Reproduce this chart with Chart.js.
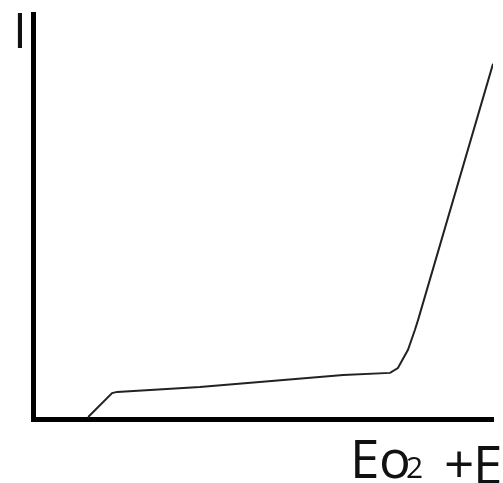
<!DOCTYPE html>
<html>
<head>
<meta charset="utf-8">
<script src="https://cdn.jsdelivr.net/npm/chart.js@4.4.1/dist/chart.umd.min.js"></script>
<style>
  html, body { margin: 0; padding: 0; background: #fff; }
  #wrap { position: relative; width: 503px; height: 483px; }
</style>
</head>
<body>
<div id="wrap"><canvas id="iv-chart"></canvas></div>
<script>
// potential (E, arbitrary units) vs current (I, arbitrary units)
const potentialE = [11.9, 17.1, 18.2, 36.2, 67.4, 77.6, 79.3, 81.5, 83.0, 83.7, 100];
const currentI   = [0.5, 6.4, 6.7, 7.9, 10.9, 11.4, 12.6, 17.1, 22.0, 24.5, 87.8];

const yLabel = 'I';
const xMark  = ['E', 'o', '2'];   // Eo₂
const xEnd   = ['+', 'E'];        // +E

// axis captions are drawn by hand beside the axes, like the sketch
const captions = {
  id: 'captions',
  afterDraw(chart) {
    const ctx = chart.ctx;
    ctx.save();
    ctx.fillStyle = '#111';
    ctx.textAlign = 'left';
    ctx.textBaseline = 'alphabetic';
    const font = px => `${px}px "Open Sans"`;

    ctx.font = font(50);
    ctx.fillText(yLabel, 13, 48);

    ctx.font = font(53);
    ctx.fillText(xMark[0], 350, 478);
    ctx.fillText(xMark[1], 379, 478);
    ctx.font = font(30);
    ctx.fillText(xMark[2], 406, 478);

    ctx.font = font(53);
    ctx.fillText(xEnd[0], 444, 483);
    ctx.fillText(xEnd[1], 473, 484);
    ctx.restore();
  }
};

// axes take no room: the plot edges are set by the layout padding alone
const noSize = s => { if (s.isHorizontal()) s.height = 0; else s.width = 0; };

new Chart(document.getElementById('iv-chart'), {
  type: 'scatter',
  data: {
    datasets: [{
      data: potentialE.map((e, i) => ({ x: e, y: currentI[i] })),
      showLine: true,
      borderColor: '#222',
      borderWidth: 2,
      pointRadius: 0,
      pointHoverRadius: 0,
      pointBorderWidth: 0,
      tension: 0,
    }]
  },
  options: {
    responsive: true,
    maintainAspectRatio: false,
    animation: false,
    events: [],
    layout: { autoPadding: false, padding: { left: 33.5, right: 10, top: 14.5, bottom: 64 } },
    plugins: { legend: { display: false }, tooltip: { enabled: false } },
    scales: {
      x: {
        type: 'linear', min: 0, max: 100,
        ticks: { display: false },
        grid: { display: false },
        border: { display: true, color: '#000', width: 5 },
        afterFit: noSize,
      },
      y: {
        type: 'linear', min: 0, max: 100,
        ticks: { display: false },
        grid: { display: false },
        border: { display: true, color: '#000', width: 5 },
        afterFit: noSize,
      },
    }
  },
  plugins: [captions]
});
</script>
</body>
</html>
